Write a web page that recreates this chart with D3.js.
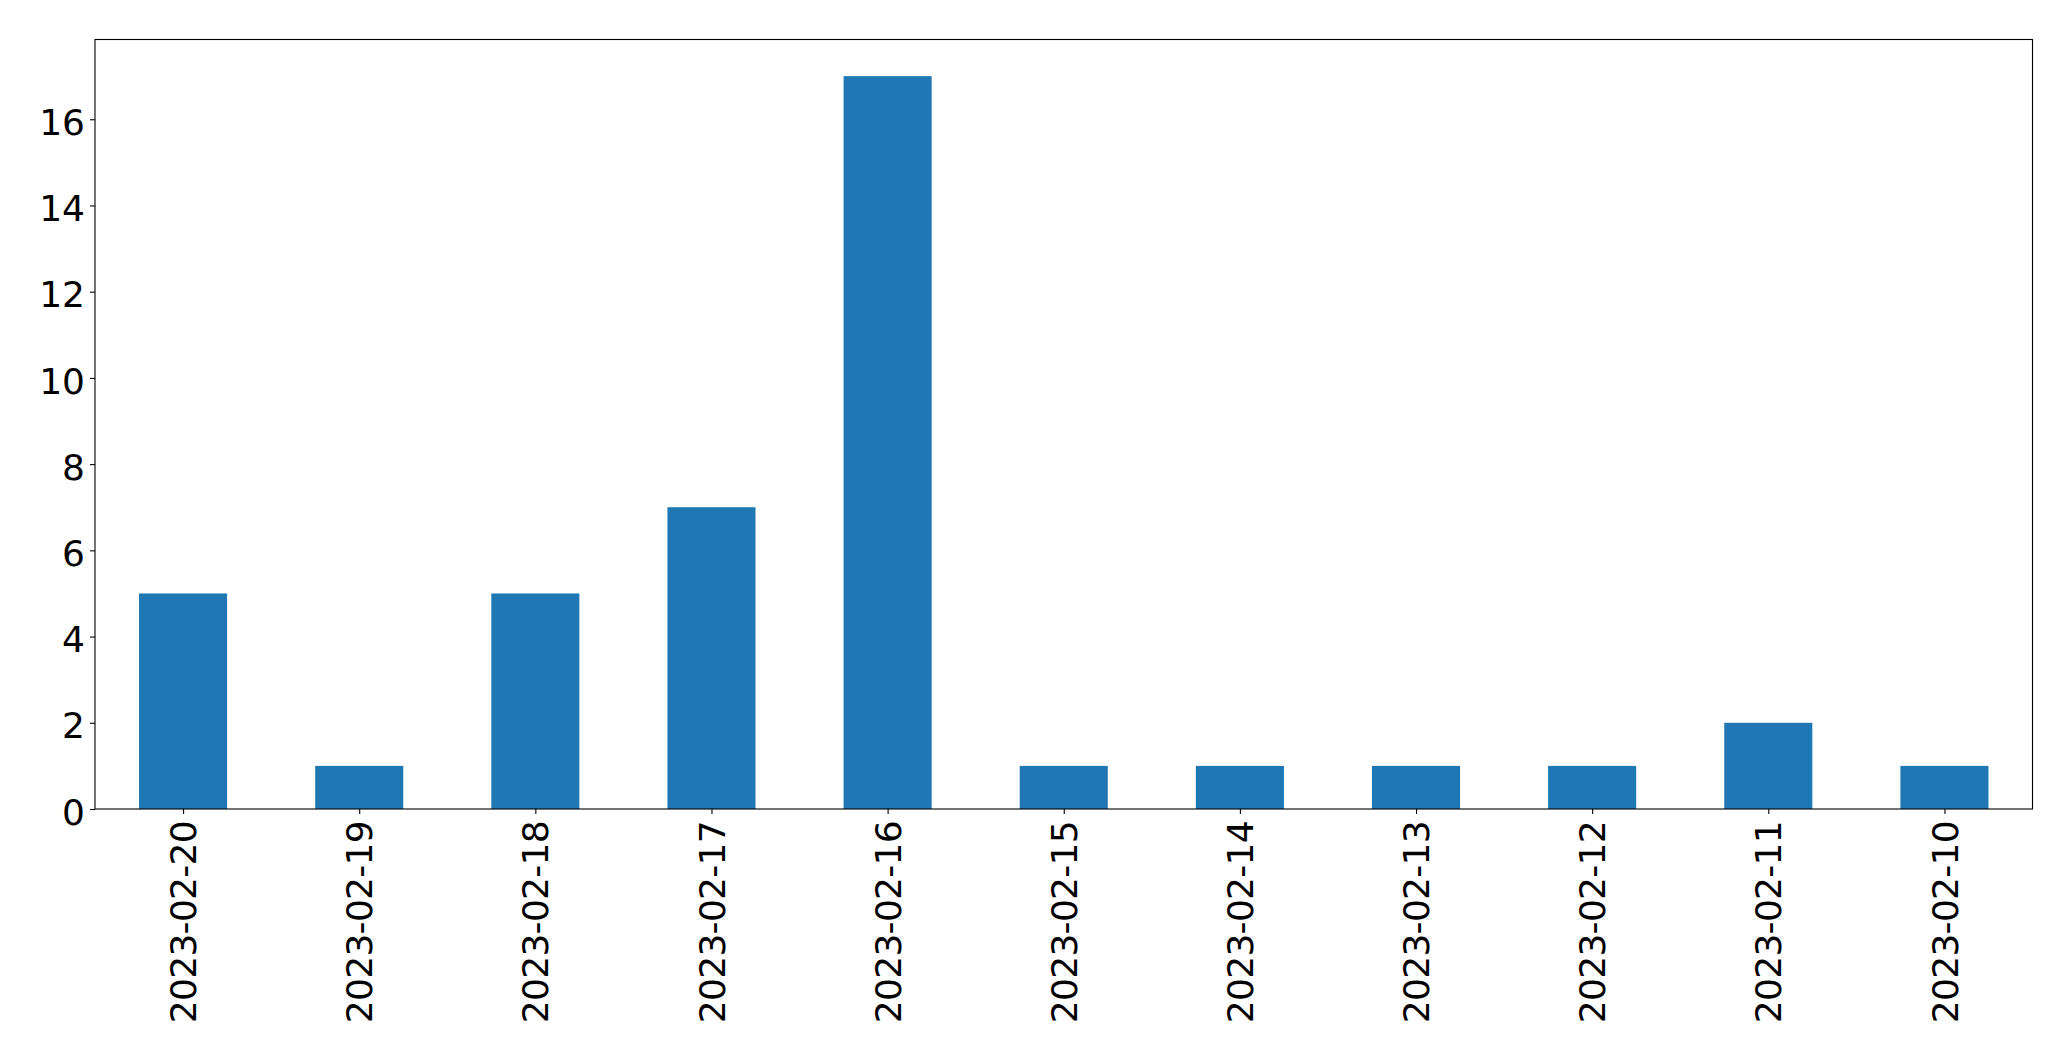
<!DOCTYPE html>
<html>
<head>
<meta charset="utf-8">
<script src="https://cdn.jsdelivr.net/npm/d3@7"></script>
<style>
  html, body { margin: 0; padding: 0; background: #fff; }
  svg { display: block; }
  text { font-family: "DejaVu Sans", sans-serif; fill: #000; }
</style>
</head>
<body>
<svg id="chart" width="2071" height="1061"></svg>
<script>
const categories = ["2023-02-20","2023-02-19","2023-02-18","2023-02-17","2023-02-16","2023-02-15","2023-02-14","2023-02-13","2023-02-12","2023-02-11","2023-02-10"];
const values = [5, 1, 5, 7, 17, 1, 1, 1, 1, 2, 1];
const yTicks = [0, 2, 4, 6, 8, 10, 12, 14, 16];

const W = 2071, H = 1061;
const margin = { left: 95, right: 2071 - 2032.5, top: 39.5, bottom: 1061 - 809 };
const svg = d3.select("#chart");
const plotW = W - margin.left - margin.right;
const plotH = H - margin.top - margin.bottom;
const g = svg.append("g").attr("transform", `translate(${margin.left},${margin.top})`);

// linear index scale to mimic matplotlib bar positions (xlim -0.5..n-0.5, width 0.5)
const xi = d3.scaleLinear().domain([-0.5, categories.length - 0.5]).range([0, plotW]);
const y = d3.scaleLinear().domain([0, d3.max(values) * 1.05]).range([plotH, 0]);
const barW = xi(0.25) - xi(-0.25);

g.selectAll("rect.bar").data(values).join("rect")
  .attr("class", "bar")
  .attr("x", (d, i) => xi(i) - barW / 2)
  .attr("width", barW)
  .attr("y", d => y(d))
  .attr("height", d => y(0) - y(d))
  .attr("fill", "#1f77b4");

const fontSize = 36;

// y axis
const yAxis = d3.axisLeft(y).tickValues(yTicks).tickFormat(d3.format("d")).tickSize(5).tickPadding(5);
const ya = g.append("g").call(yAxis);
ya.select(".domain").remove();
ya.selectAll("line").attr("stroke", "#000").attr("stroke-width", 1.1);
ya.selectAll("text").style("font-size", fontSize + "px").attr("dy", "0.42em");

// x axis
const xAxis = d3.axisBottom(xi).tickValues(d3.range(categories.length)).tickFormat(i => categories[i]).tickSize(5).tickPadding(5);
const xa = g.append("g").attr("transform", `translate(0,${plotH})`).call(xAxis);
xa.select(".domain").remove();
xa.selectAll("line").attr("stroke", "#000").attr("stroke-width", 1.1);
xa.selectAll("text")
  .style("font-size", fontSize + "px")
  .style("letter-spacing", "-0.7px")
  .attr("text-anchor", "end")
  .attr("transform", "rotate(-90)")
  .attr("x", -12)
  .attr("y", 0)
  .attr("dy", "0.35em");

// frame
g.append("rect").attr("x", 0).attr("y", 0).attr("width", plotW).attr("height", plotH)
  .attr("fill", "none").attr("stroke", "#000").attr("stroke-width", 1.1);
</script>
</body>
</html>
